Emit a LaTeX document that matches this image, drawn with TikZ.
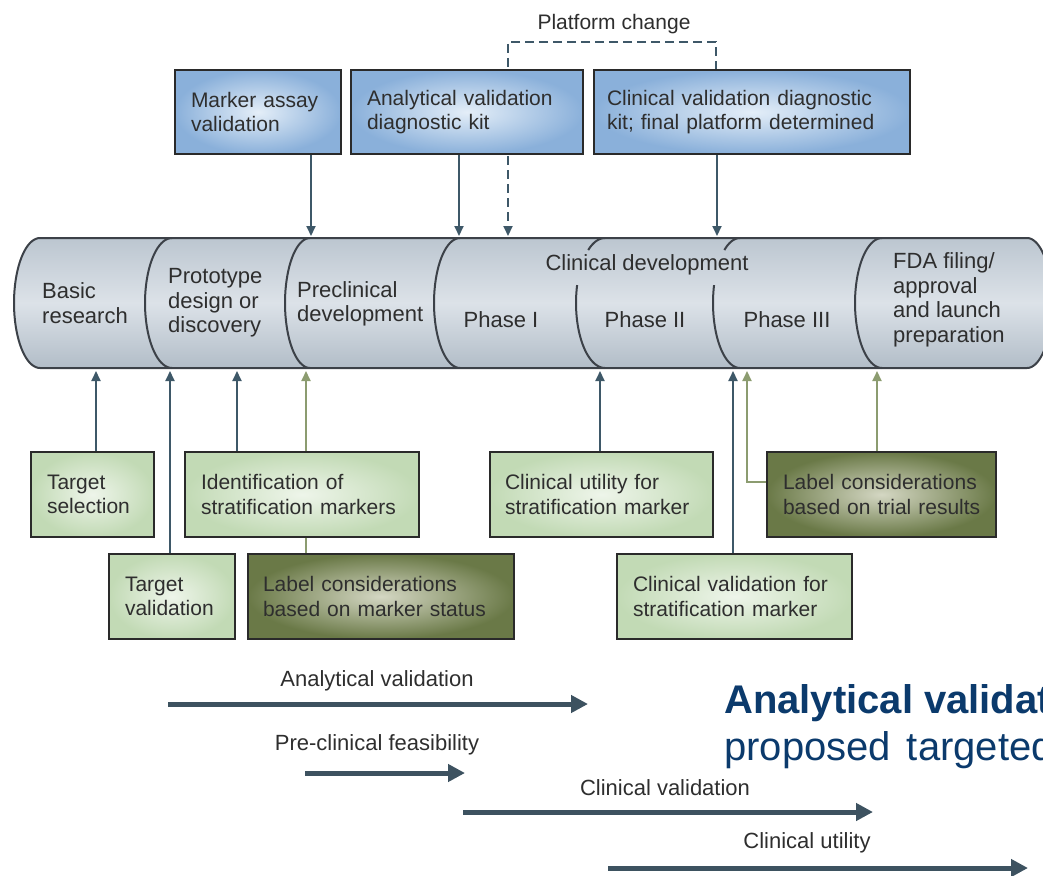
\documentclass[tikz,border=0pt]{standalone}
\usepackage{fontspec}
\setmainfont{Liberation Sans}
\usetikzlibrary{arrows.meta,backgrounds}
\definecolor{boxline}{HTML}{2A2A2A}
\definecolor{boxtxt}{HTML}{2E2E2E}
\definecolor{arrc}{HTML}{3E5868}
\definecolor{grarr}{HTML}{8C9C70}
\definecolor{bigarr}{HTML}{3D5260}
\definecolor{navy}{HTML}{0B3A6C}
\definecolor{bluein}{HTML}{E4EEF8}
\definecolor{blueout}{HTML}{8AB0DA}
\definecolor{grin}{HTML}{EEF5EA}
\definecolor{grout}{HTML}{C2DAB5}
\definecolor{olin}{HTML}{D4D7C3}
\definecolor{olout}{HTML}{6A7947}
\definecolor{cyltop}{HTML}{BCC6D0}
\definecolor{cylmid}{HTML}{DCE2E8}
\definecolor{cylbot}{HTML}{B2BDC8}
\definecolor{cylline}{HTML}{3C4148}
\begin{document}
\begin{tikzpicture}[x=1pt,y=-1pt,
  box/.style={draw=boxline, line width=2.2pt, align=left, inner xsep=16pt, inner ysep=0pt,
    outer sep=0pt, anchor=north west, text=boxtxt, font=\fontsize{21}{24.5}\selectfont},
  bluebox/.style={inner color=bluein, outer color=blueout},
  greenbox/.style={inner color=grin, outer color=grout},
  olivebox/.style={inner color=olin, outer color=olout},
  ctext/.style={align=left, inner sep=0pt, text=boxtxt, font=\fontsize{22}{24.5}\selectfont},
  lab/.style={inner sep=0pt, text=boxtxt, font=\fontsize{22}{26}\selectfont},
  arr/.style={draw=arrc, line width=2pt, -{Triangle[length=10pt,width=9pt]}},
  garr/.style={draw=grarr, line width=2pt, -{Triangle[length=10pt,width=9pt]}},
  gline/.style={draw=grarr, line width=2pt},
  bigarrow/.style={draw=bigarr, line width=5pt, -{Triangle[length=17pt,width=17pt]}},
  divider/.style={draw=cylline, line width=2pt},
  cyl/.style={top color=cyltop, bottom color=cylbot, middle color=cylmid, draw=cylline, line width=2pt}
]
\useasboundingbox (0,0) rectangle (1043,875);

% ---- top boxes
\node[box,bluebox,minimum width=166pt,minimum height=84pt,text width=134pt] (marker) at (175,70)
  {\mbox{Marker assay}\\\mbox{validation}};
\node[box,bluebox,minimum width=232pt,minimum height=84pt,text width=200pt,inner xsep=16pt] (anakit) at (351,70)
  {\mbox{Analytical validation}\\\mbox{diagnostic kit}};
\node[box,bluebox,minimum width=316pt,minimum height=84pt,text width=290pt,inner xsep=13pt] (cvalkit) at (594,70)
  {\mbox{Clinical validation diagnostic}\\\mbox{kit; final platform determined}};
\node[lab, font=\fontsize{21}{24}\selectfont] (pchange) at (614,24) {Platform change};

% ---- cylinder labels
\node[ctext, anchor=west] (basic) at (42,303) {Basic\\research};
\node[ctext, anchor=west] (proto) at (168,303) {Prototype\\design or\\discovery};
\node[ctext, anchor=west] (precl) at (297,304) {Preclinical\\development};
\node[ctext] (ph1) at (501,320) {Phase I};
\node[ctext] (cdev) at (647,265) {Clinical development};
\node[ctext] (ph2) at (645,320) {Phase II};
\node[ctext] (ph3) at (787,320) {Phase III};
\node[ctext, anchor=west] (fda) at (893,300) {FDA filing/\\approval\\and launch\\preparation};

% ---- bottom boxes
\node[box,greenbox,minimum width=123pt,minimum height=85pt,text width=91pt] (tsel) at (31,452)
  {\mbox{Target}\\\mbox{selection}};
\node[box,greenbox,minimum width=234pt,minimum height=85pt,text width=202pt] (ident) at (185,452)
  {\mbox{Identification of}\\\mbox{stratification markers}};
\node[box,greenbox,minimum width=126pt,minimum height=85pt,text width=94pt] (tval) at (109,554)
  {\mbox{Target}\\\mbox{validation}};
\node[box,olivebox,minimum width=266pt,minimum height=85pt,text width=236pt,inner xsep=15pt] (lms) at (248,554)
  {\mbox{Label considerations}\\\mbox{based on marker status}};
\node[box,greenbox,minimum width=223pt,minimum height=85pt,text width=193pt,inner xsep=15pt] (cutil) at (490,452)
  {\mbox{Clinical utility for}\\\mbox{stratification marker}};
\node[box,olivebox,minimum width=229pt,minimum height=85pt,text width=197pt] (ltr) at (767,452)
  {\mbox{Label considerations}\\\mbox{based on trial results}};
\node[box,greenbox,minimum width=235pt,minimum height=85pt,text width=203pt] (cvs) at (617,554)
  {\mbox{Clinical validation for}\\\mbox{stratification marker}};

% ---- bottom timeline arrows
\coordinate (av1) at (168,704); \coordinate (av2) at (588,704);
\coordinate (pf1) at (305,773); \coordinate (pf2) at (465,773);
\coordinate (cv1) at (463,812); \coordinate (cv2) at (873,812);
\coordinate (cu1) at (608,868); \coordinate (cu2) at (1028,868);
\draw[bigarrow] (av1) -- (av2);
\draw[bigarrow] (pf1) -- (pf2);
\draw[bigarrow] (cv1) -- (cv2);
\draw[bigarrow] (cu1) -- (cu2);
\node[lab] (avl) at (377,681) {Analytical validation};
\node[lab] (pfl) at (377,745) {Pre-clinical feasibility};
\node[lab] (cvl) at (665,788) {Clinical validation};
\node[lab] (cul) at (807,843) {Clinical utility};

% ---- slide text (cut by the right edge)
\begin{scope}
  \clip (0,0) rectangle (1043,875);
  \node[anchor=base west, inner sep=0pt, text=navy, font=\fontsize{40}{48}\selectfont\bfseries] (h1) at (724,713) {Analytical validat};
  \node[anchor=base west, inner sep=0pt, text=navy, font=\fontsize{40}{48}\selectfont] (h2) at (724,760) {proposed\hspace{16pt}targeted};
\end{scope}

% ---- background: cylinder and connectors
\begin{scope}[on background layer]
  \clip (0,0) rectangle (1043,875);
  \path[cyl] (40,238) -- (1027,238)
     -- plot[domain=-90:90, samples=40] ({1027+25*cos(\x)},{303+65*sin(\x)})
     -- (40,368)
     -- plot[domain=90:270, samples=40] ({40+26*cos(\x)},{303+65*sin(\x)}) -- cycle;
  % dividers
  \draw[divider] plot[domain=90:270, samples=40] ({172+27*cos(\x)},{303+65*sin(\x)});
  \draw[divider] plot[domain=90:270, samples=40] ({310+25*cos(\x)},{303+65*sin(\x)});
  \draw[divider] plot[domain=90:270, samples=40] ({460+26*cos(\x)},{303+65*sin(\x)});
  \draw[divider] plot[domain=234.6:270, samples=15] ({605+29*cos(\x)},{303+65*sin(\x)});
  \draw[divider] plot[domain=90:196, samples=30] ({605+29*cos(\x)},{303+65*sin(\x)});
  \draw[divider] plot[domain=234.6:270, samples=15] ({740+27*cos(\x)},{303+65*sin(\x)});
  \draw[divider] plot[domain=90:196, samples=30] ({740+27*cos(\x)},{303+65*sin(\x)});
  \draw[divider] plot[domain=90:270, samples=40] ({882+27*cos(\x)},{303+65*sin(\x)});

  % top connectors
  \coordinate (t1) at (311,236);
  \coordinate (t2) at (459,236);
  \coordinate (t3) at (508,236);
  \coordinate (t4) at (717,236);
  \coordinate (pcR) at (716,42);
  \coordinate (pcL) at (508,42);
  \draw[arr] (marker.south -| t1) -- (t1);
  \draw[arr] (anakit.south -| t2) -- (t2);
  \draw[arr, dash pattern=on 9pt off 5pt] (cvalkit.north -| pcR) -- (pcR) -- (pcL) -- (t3);
  \draw[arr] (cvalkit.south -| t4) -- (t4);

  % bottom connectors
  \coordinate (b1) at (96,371);
  \coordinate (b2) at (170,371);
  \coordinate (b3) at (237,371);
  \coordinate (b4) at (306,371);
  \coordinate (b5) at (600,371);
  \coordinate (b6) at (733,371);
  \coordinate (b7) at (747,371);
  \coordinate (e7) at (747,482);
  \coordinate (b8) at (877,371);
  \draw[arr] (tsel.north -| b1) -- (b1);
  \draw[arr] (tval.north -| b2) -- (b2);
  \draw[arr] (ident.north -| b3) -- (b3);
  \draw[garr] (ident.north -| b4) -- (b4);
  \draw[gline] (ident.south -| b4) -- (lms.north -| b4);
  \draw[arr] (cutil.north -| b5) -- (b5);
  \draw[arr] (cvs.north -| b6) -- (b6);
  \draw[garr] (ltr.west |- e7) -- (e7) -- (b7);
  \draw[garr] (ltr.north -| b8) -- (b8);
\end{scope}
\end{tikzpicture}
\end{document}
